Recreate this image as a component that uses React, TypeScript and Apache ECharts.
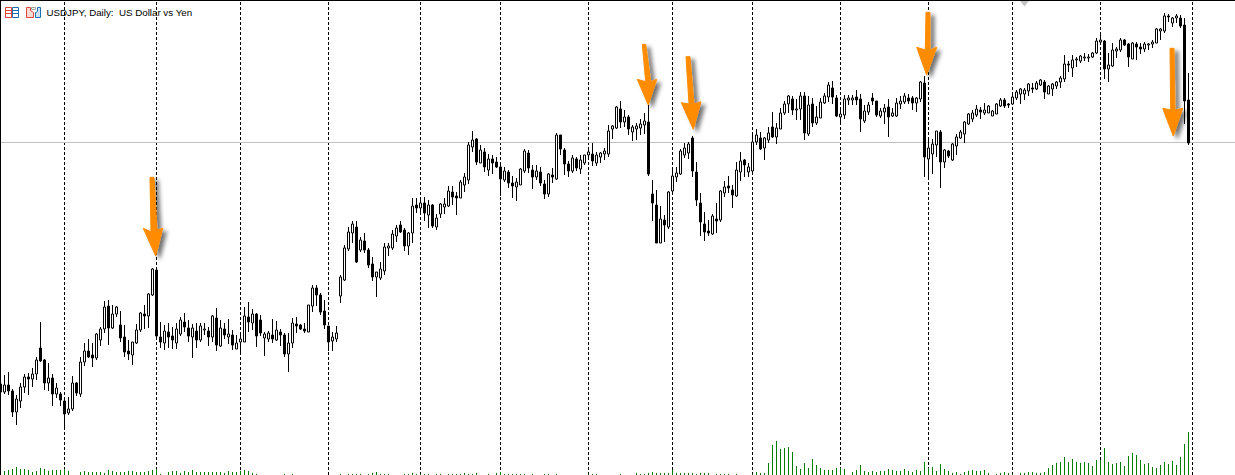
import React, { useEffect, useRef } from "react";
import * as echarts from "echarts";

const opens = [
  91.6,90.8,91.5,90.9,88.8,89.9,91.3,92.3,92.1,92.6,
  95.2,94,91.7,92.2,90.6,90.6,89.9,88.7,89.1,91.7,
  90.6,93.8,94.9,94.5,94.2,96,97.1,99.4,97.2,98.6,
  97.5,96.3,94.9,94.5,95.7,97,98.6,98.4,100.5,103,
  96.3,95.7,96.8,96.4,95.7,96.6,97.8,97.2,96.3,96.9,
  96,97,96.9,96.3,98.2,95.4,97.1,96.3,96.5,95.1,
  95.8,95.8,98.3,97.7,98.6,98,96.2,96.1,96.5,96,
  96.8,96.5,94.6,95.7,97.6,97.5,97.1,96.8,99.4,101.2,
  100.5,98.9,97.4,95.9,96.1,100.4,102,105.1,106.7,107.3,
  105,105.9,105,103.6,102.3,102.2,102.9,105.2,105.2,106.4,
  107.5,107,105.4,106.7,109.5,109.2,109.7,108.5,109.5,107.3,
  108.6,109.3,109.4,110.8,110.4,110.2,111.5,112,115.3,116.1,
  113.7,114.8,113,114.1,113.8,113.3,112,112.8,111.7,111.3,
  111.5,112.9,114.7,113,112.3,112.8,111.6,110.6,112.5,112.1,
  116.5,115,113.6,112.9,114.1,113.1,113.7,114.5,114.6,113.7,
  114.3,114.6,114.6,117.1,117.2,119.1,117.8,118.3,116.8,117.1,
  117.2,117.5,117.8,110.6,109.5,105.7,108,107.3,110.9,112.3,
  112.6,114.5,114.7,116.2,112.8,109.7,107.6,106.9,106.6,108.1,
  108,110.7,111.4,111,110.4,112.8,114,112.8,112.9,115.8,
  116.2,115.2,116,117.3,116.3,117.1,118.7,119.6,120.1,119,
  119.1,120.4,116.6,119.6,117.7,118.2,119.7,120.3,121.2,120.2,
  118.3,118.5,120,120,120.3,120.1,117.9,118.8,120.2,119.9,
  118.4,118.8,119.3,118.4,118.4,119.6,119.8,120.2,120.2,119.7,
  120.1,121.7,114.1,114.6,115.5,116.8,113.8,114.9,114,115.4,
  116.2,116.6,117.6,118.1,118.5,119,118.7,118.7,118.4,118.6,
  119.4,120,119.6,119.6,120.2,120.6,120.6,120.9,121.2,121.1,
  121.5,121.8,120.6,121.1,121.4,121.8,122.1,123.6,123.2,124,
  123.9,124.2,124.2,124.3,124.7,125.8,125.9,123.1,123.4,124.9,
  125,126,125.6,124.1,125.6,125.3,125.1,125.5,125.6,125.7,
  126.9,126.9,128.4,127.7,128.2,128.2,127.5,120,
];
const closes = [
  90.8,91.5,90.9,88.8,90.1,91.3,92.3,92.1,92.6,94,
  93.9,91.7,92.2,90.6,91.2,90,88.6,89.1,91.7,90.7,
  93.8,94.9,94.3,94.2,96.6,97.1,99.3,97.2,98.6,99.3,
  96.2,94.8,94.6,95.8,97,98.7,98.4,100.6,103.1,96.4,
  95.8,96.9,96.3,96,97.1,98,97.3,96.4,97.2,96,
  97.4,97.1,96.3,98.4,95.5,97.2,96.5,96.6,95.5,95.7,
  96.1,98.4,97.8,98.6,96.4,96.7,96.6,96.7,96.1,97,
  96.5,94.6,95.7,97.7,97.4,97.1,96.9,99.5,101.2,100.5,
  98.8,97.5,95.8,96.3,96.7,102.3,105.2,106.8,107.6,103.8,
  106,105,103.5,102.3,102.8,103.1,105.3,105.4,106.6,107.2,
  106.8,105.4,106.7,109.4,109.2,109.7,108.7,109.5,107.4,108.2,
  109.6,109.6,110.9,110.3,110.2,111.8,112.3,115.5,116,113.8,
  115,113.3,114.1,113.7,113.3,112.1,112.9,111.7,111.4,111.8,
  113.1,114.9,113.2,112.3,112.9,111.7,110.6,112.6,112.3,116.5,
  115.1,113.6,112.9,114.2,113.2,114,114.5,114.8,113.9,114.5,
  114.7,114.9,116.9,117.4,119.3,117.8,118.3,117.1,117.3,117.4,
  117.6,117.9,112.6,109.7,105.7,108.1,107.5,110.8,112.4,112.7,
  114.9,115.2,115.6,112.9,110,107.8,106.8,106.7,108.4,107.9,
  110.9,111.3,111.2,110.5,113,113.9,113.5,113.3,115.8,116.5,
  115.1,116.2,116.7,116.3,117.2,118.7,119.6,120.4,119,119.1,
  120.4,116.7,119.5,117.7,118.3,119.8,120.4,121.5,120.3,118.4,
  118.6,120.1,120.2,120.2,120,118.1,118.9,119.5,119.9,118.5,
  118.9,119.2,118.3,118.7,119.7,119.9,120.4,119.9,119.7,120.2,
  121.8,114.3,115.2,115.6,116.9,113.8,115,114.4,115.6,116.3,
  116.8,117.8,118.6,118.7,119.1,118.8,119,119.4,118.9,119.6,
  120,119.4,119.5,120.3,120.8,121.1,121,121.6,121.1,121.7,
  122,120.8,121.4,121.6,121.8,122.2,123.6,123.5,124,124.1,
  124.4,124.3,124.3,124.7,125.9,126,123.1,123.5,125,125.1,
  126,125.5,124.3,125.7,125.3,125.1,125.6,125.6,125.8,127.1,
  127.1,128.4,128.3,128.2,128.4,127.4,119.9,115.7,
];
const lows = [
  90.6,90.6,90.5,88.3,87.5,89.2,90.7,90.5,91.3,92,
  93.8,91,90.9,89.4,90.2,89.4,87,88.5,88.9,90.4,
  90.3,93.4,94.2,93.3,94,95.4,96.7,95.5,97.1,98.3,
  95.8,94.3,94,93.5,95.6,96.8,97.1,97.2,100.4,96,
  95.2,95,95.2,95.1,95.1,96.4,96.8,95.8,94.2,95.2,
  95.8,96.5,95.4,95.8,94.9,95.3,96.1,95.6,95,95.1,
  94.7,95.8,96.8,97,95.3,96.4,94.4,95.8,95.7,95.9,
  95.4,94.3,92.8,95.2,96.7,97,96.7,96.8,98.8,99.4,
  98.5,97.1,94.9,94.9,95.8,99.7,101.9,104.9,105.7,103.7,
  104.8,104.7,103.2,101.9,100.3,102,102.5,104.4,105,105.8,
  106.7,104.9,104.5,105.7,108.7,108.8,107.9,107.2,107.2,107,
  108.2,108.6,109.3,109.5,108.5,110.2,110.8,111.6,114.8,113.5,
  113.7,112.8,112.4,112.6,113.2,110.4,111.8,111.2,110.2,109.9,
  111.5,112.7,112.7,111.1,112,111.4,110.1,110.3,111.7,112,
  114.5,112.5,112.3,112.7,112.9,112.6,113.5,114,113.4,113.4,
  113.7,114,114.3,116.1,117.1,117.2,117.3,116.5,115.9,116,
  116.5,116.6,112.4,107.9,105.7,105.7,105.8,107.1,110.8,111.8,
  112.5,114.2,114.1,112.3,109.4,106.4,105.9,106.4,106.5,106.7,
  107.8,110.3,110.7,109.2,110.3,111.9,112.3,112.3,112.8,115.5,
  115,114,115.7,116.2,115.6,117.1,118.5,118.7,118.5,118,
  118,116,116.4,117.3,117.5,118.2,119.6,119.8,119.6,118.3,
  117.5,118.1,119.5,119.5,119.5,116.8,117.7,118.5,119.5,118.3,
  118.2,117.6,116.3,118.3,118.3,119.1,119.6,119.6,119,118.8,
  119.8,112.3,112.1,112.6,114.3,111.2,113.2,114.2,113.9,114.5,
  116.1,115.7,117.5,117.8,118.3,118.1,118.5,118.7,118.4,118.6,
  119.3,119.2,119.2,119.5,120,119.6,120,120.4,120.7,121,
  121.4,120.1,120.6,120.4,121.1,121.2,121.8,122.8,122.3,123.3,
  123.7,123.9,123.8,124.2,124.6,125.5,122.1,121.8,123.3,124.2,
  124.8,125.4,123.3,124.1,124,124.6,124.8,125,125.2,125.7,
  126,126.7,127.8,127.3,127.7,127.2,117.6,115.5,
];
const highs = [
  91.7,92.5,92.8,91.1,90.5,91.7,92.6,92.7,93.2,94.3,
  97.8,94.1,93.7,92.6,91.7,90.8,90,90.3,92.4,91.8,
  94.3,95.7,96.1,95.7,96.7,97.3,99.9,100,99.5,99.4,
  98.9,97.5,96,95.8,97.6,98.8,99.5,100.7,103.2,103,
  97.8,97.5,97.7,97.3,97.7,98.3,98.7,98,97.6,97.7,
  97.7,97.7,97.3,98.5,99.2,98,97.7,98.1,97,96.5,
  96.7,99.3,99.8,99.1,98.7,98.5,96.8,96.9,98.1,97.9,
  97.1,96.7,96.7,98.2,98.3,97.6,97.7,99.5,101.5,101.5,
  100.7,100,97.4,96.8,97.4,102.5,105.5,107.3,107.9,107.9,
  106.3,106.7,105.2,104.3,102.8,103.8,105.7,105.7,107,107.5,
  107.9,107.2,106.8,110.2,110.2,110.2,110.3,110,109.6,108.6,
  109.7,110.2,111.4,111.4,110.8,112,112.7,115.8,116.9,116.2,
  115.5,115.2,114.6,114.5,114.3,113.7,113.3,113,112.4,112.2,
  113.2,115.1,115,113.5,113.5,113.3,112,112.7,113.2,116.7,
  116.5,115.2,113.9,114.5,114.3,114.5,114.5,115.3,115.7,114.8,
  114.8,115.2,117.5,117.5,119.4,119.9,119,118.5,117.5,117.7,
  118.1,118.7,119.5,112,111,109.4,108.5,110.9,113,113.3,
  115.1,115.7,115.8,116.4,113.8,110.7,108.8,108,108.6,109.7,
  111,111.9,112.4,111.5,113.8,114.8,114.1,113.7,116.7,117.1,
  116.8,116.3,117.3,118.8,117.7,119.2,119.9,120.5,120.4,120.1,
  120.8,120.8,120.4,120.2,119.4,120.2,120.7,121.8,121.9,120.5,
  119.2,120.5,120.5,120.5,121,120.6,119.5,119.8,120.7,119.9,
  119.2,119.6,120.1,119.2,120.2,120.4,120.7,120.6,120.4,120.3,
  121.9,122.4,116.1,116.1,116.9,117,115.1,115,115.7,116.6,
  117,117.9,118.7,119,119.5,119.3,119.7,119.5,119,119.7,
  120.2,120.2,119.7,120.5,121,121.2,121.2,121.7,121.7,121.9,
  122.1,122,121.5,121.7,121.9,122.4,124.5,123.9,124.5,124.3,
  124.5,124.7,124.6,124.8,126.2,126.5,126,124.7,125.7,125.3,
  126.2,126.1,125.7,125.8,125.8,125.7,125.8,125.7,126,127.2,
  127.2,128.7,128.6,128.3,128.6,128.5,128.2,122.7,
];
const volumes = [
  0,4,5,6,8,6,6,5,3,4,
  7,6,4,5,5,5,6,4,0,0,
  3,4,3,3,3,3,2,5,4,3,
  3,3,4,4,3,3,3,4,5,6,
  1,0,3,4,4,2,4,3,5,3,
  3,3,3,3,3,3,2,4,3,3,
  4,5,4,2,1,0,0,0,0,0,
  0,1,0,1,0,0,0,0,0,0,
  0,0,0,0,0,1,0,1,1,1,
  1,0,1,2,3,1,1,1,0,0,
  0,1,1,2,1,1,1,1,0,1,
  1,0,1,1,1,1,2,1,1,2,
  0,0,1,0,2,3,1,1,1,1,
  1,1,0,1,0,0,1,1,0,1,
  0,0,0,0,0,0,0,1,1,1,
  0,0,0,0,0,1,0,0,0,2,
  1,1,2,3,2,2,2,2,5,2,
  2,2,2,2,1,2,2,2,0,1,
  1,1,1,0,1,0,0,0,1,3,
  2,2,12,30,34,26,27,28,23,9,
  6,12,7,16,10,7,5,5,5,7,
  7,6,0,3,5,10,4,3,4,3,
  4,4,6,5,4,4,6,4,3,5,
  4,13,7,8,4,11,6,4,2,3,
  1,3,4,5,4,4,5,2,0,1,
  2,3,2,1,0,2,2,3,3,2,
  2,3,7,10,12,13,18,13,16,13,
  12,13,12,9,15,15,27,13,11,12,
  13,9,19,22,20,15,11,12,8,7,
  10,13,11,14,10,18,31,43,
];
const gridCandles = [16, 39, 60, 82, 105, 125, 147, 168, 188, 210, 232, 253, 275, 298];
const priceLevel = 115.75;
const categories = Array.from({ length: 310 }, (_, i) => String(i));
const titleText = "USDJPY, Daily:  US Dollar vs Yen";

const arrowPoints: number[][][] = [
  [[150, 177.3], [154, 177.3], [157, 230], [162.7, 228.3], [155.7, 256], [143.3, 228.3], [151, 231.7]],
  [[642.3, 44.3], [645.7, 44.3], [650.7, 81.7], [656.7, 79.3], [648.3, 105], [637.3, 79.3], [645.7, 81.7]],
  [[686, 56.7], [690, 56.7], [694, 104], [701, 101.7], [693.3, 129.3], [681.3, 102.7], [689, 104]],
  [[926, 12.3], [930, 12.3], [930, 50], [936.7, 47.3], [926.7, 75], [916.7, 47.3], [925.3, 50]],
  [[1170, 48.3], [1174, 48.3], [1175, 110], [1182.7, 108.3], [1173.3, 136], [1162.7, 108.3], [1170.7, 110]],
];

const RED = "#e0453a";
const BLUE = "#1a6fb5";

function hline(x1: number, x2: number, y: number, stroke: string) {
  return { type: "line", silent: true, shape: { x1, y1: y, x2, y2: y }, style: { stroke, lineWidth: 1 }, z: 20 };
}

const iconElements: any[] = [
  { type: "rect", silent: true, shape: { x: 5.5, y: 7.5, width: 6, height: 10 }, style: { fill: "#fff", stroke: RED, lineWidth: 1 }, z: 20 },
  { type: "rect", silent: true, shape: { x: 12.5, y: 7.5, width: 6, height: 10 }, style: { fill: "#fff", stroke: BLUE, lineWidth: 1 }, z: 20 },
  hline(6, 11, 10.5, RED), hline(6, 11, 13.5, RED), hline(13, 18, 10.5, BLUE), hline(13, 18, 13.5, BLUE),
  { type: "polygon", silent: true, shape: { points: [[26.5, 7.5], [30.5, 7.5], [30.5, 10.5], [33.5, 12.5], [33.5, 17.5], [26.5, 17.5]] }, style: { fill: "#fbd9d3", stroke: RED, lineWidth: 1 }, z: 20 },
  { type: "polygon", silent: true, shape: { points: [[40.5, 7.5], [37.5, 7.5], [37.5, 11.5], [35.5, 12.5], [35.5, 17.5], [40.5, 17.5]] }, style: { fill: "#cfe3f5", stroke: BLUE, lineWidth: 1 }, z: 20 },
  { type: "rect", silent: true, shape: { x: 31.5, y: 7.5, width: 4, height: 2 }, style: { fill: "#fff", stroke: "#a0a0a0", lineWidth: 1 }, z: 20 },
];

export default function App() {
  const ref = useRef<HTMLDivElement>(null);
  useEffect(() => {
    document.body.style.margin = "0";
    const chart = echarts.init(ref.current!, undefined, { renderer: "svg", width: 1235, height: 475 });
    const candleData = opens.map((o, i) => [o, closes[i], lows[i], highs[i]]);
    chart.setOption({
      animation: false,
      backgroundColor: "#ffffff",
      grid: { left: -1.5, top: 0, width: 1240, height: 475, containLabel: false, outerBoundsMode: "none" },
      xAxis: {
        type: "category",
        data: categories,
        show: false,
        boundaryGap: true,
      },
      yAxis: [
        { type: "value", min: 82.5, max: 130, show: false, scale: true },
        { type: "value", min: 0, max: 475, show: false },
      ],
      series: [
        {
          type: "candlestick",
          name: "USDJPY",
          yAxisIndex: 0,
          data: candleData,
          barWidth: 2,
          itemStyle: {
            color: "#ffffff",
            color0: "#000000",
            borderColor: "#000000",
            borderColor0: "#000000",
            borderWidth: 1,
          },
          markLine: {
            silent: true,
            symbol: ["none", "none"],
            label: { show: false },
            z: 1,
            animation: false,
            data: [
              ...gridCandles.map((c) => ({
                xAxis: c,
                lineStyle: { color: "#000000", width: 1, type: [3, 2], opacity: 1 },
              })),
              { yAxis: priceLevel, lineStyle: { color: "#c0c0c0", width: 1, type: "solid", opacity: 1 } },
            ],
          },
        },
        {
          type: "bar",
          name: "Volume",
          yAxisIndex: 1,
          data: volumes,
          barWidth: 1,
          itemStyle: { color: "#008000" },
        },
      ],
      graphic: [
        { type: "rect", silent: true, shape: { x: 0, y: 0, width: 1235, height: 1 }, style: { fill: "#000" }, z: 30 },
        { type: "rect", silent: true, shape: { x: 0, y: 0, width: 1, height: 475 }, style: { fill: "#000" }, z: 30 },
        { type: "polygon", silent: true, shape: { points: [[1020, 1], [1029, 1], [1024.5, 6.5]] }, style: { fill: "#c4c4c4" }, z: 20 },
        ...iconElements,
        {
          type: "text",
          silent: true,
          x: 46.5,
          y: 12.5,
          z: 20,
          style: {
            text: titleText,
            fill: "#000000",
            font: "9.75px 'Liberation Sans'",
            verticalAlign: "middle",
          },
        },
        ...arrowPoints.map((points) => ({
          type: "polygon",
          silent: true,
          z: 25,
          shape: { points },
          style: {
            fill: "#ff8c00",
            stroke: "#ff8c00",
            lineWidth: 1,
            lineJoin: "round",
            shadowColor: "rgba(0,0,0,0.55)",
            shadowBlur: 4,
            shadowOffsetX: 4,
            shadowOffsetY: 3,
          },
        })),
      ],
    });
    return () => chart.dispose();
  }, []);
  return <div ref={ref} style={{ position: "absolute", left: 0, top: 0, width: 1235, height: 475, overflow: "hidden" }} />;
}
